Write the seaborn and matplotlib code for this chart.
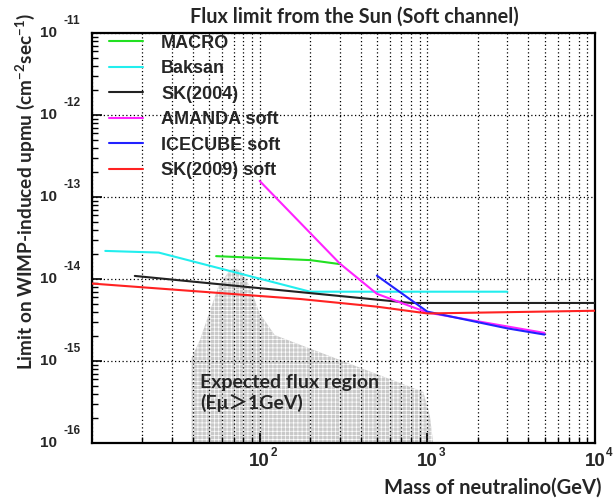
import numpy as np
import pandas as pd
import matplotlib
matplotlib.use("Agg")
import matplotlib.pyplot as plt
from matplotlib.ticker import LogLocator, NullFormatter
import seaborn as sns

# ---- data -------------------------------------------------------------
macro_mass = [55, 200, 300]
macro_flux = [1.9e-14, 1.7e-14, 1.52e-14]

baksan_mass = [12, 25, 200, 3000]
baksan_flux = [2.2e-14, 2.1e-14, 7.0e-15, 7.0e-15]

sk2004_mass = [18, 800, 10000]
sk2004_flux = [1.09e-14, 5.1e-15, 5.1e-15]

amanda_mass = [100, 300, 500, 1000, 5000]
amanda_flux = [1.57e-13, 1.55e-14, 6.6e-15, 3.9e-15, 2.2e-15]

icecube_mass = [500, 1000, 3000, 5000]
icecube_flux = [1.1e-14, 4.0e-15, 2.5e-15, 2.1e-15]

sk2009_mass = [10, 175, 500, 1000, 10000]
sk2009_flux = [8.8e-15, 5.7e-15, 4.6e-15, 3.8e-15, 4.1e-15]

# upper edge of the expected flux band (Emu > 1 GeV)
region_mass = [39.3, 39.3, 44, 56.6, 66.5, 71.3, 78, 87.5, 100, 123, 946, 1037, 1083]
region_flux = [1e-16, 1.1e-15, 1.8e-15, 8.0e-15, 1.29e-14, 1.35e-14, 1.23e-14,
               8.0e-15, 3.8e-15, 2.07e-15, 4.2e-16, 2.1e-16, 1e-16]

series_names = ["MACRO", "Baksan", "SK(2004)", "AMANDA soft", "ICECUBE soft", "SK(2009) soft"]
series_colors = ["#22e022", "#22eeee", "#222222", "#ff22ff", "#2222ff", "#ff2222"]

x_decades = [100, 1000, 10000]
y_decades = [1e-16, 1e-15, 1e-14, 1e-13, 1e-12, 1e-11]

# ---- style ------------------------------------------------------------
sns.set_theme(style="ticks")
plt.rcParams["font.family"] = ["Liberation Sans", "DejaVu Sans"]
plt.rcParams["font.weight"] = "bold"
plt.rcParams["mathtext.fontset"] = "custom"
plt.rcParams["mathtext.rm"] = "Lato:bold"
plt.rcParams["mathtext.bf"] = "Lato:bold"
plt.rcParams["mathtext.it"] = "Lato:bold:italic"
plt.rcParams["hatch.color"] = "#969696"
plt.rcParams["hatch.linewidth"] = 0.5

frames = []
for name, m, f in zip(series_names,
                      [macro_mass, baksan_mass, sk2004_mass, amanda_mass, icecube_mass, sk2009_mass],
                      [macro_flux, baksan_flux, sk2004_flux, amanda_flux, icecube_flux, sk2009_flux]):
    frames.append(pd.DataFrame({"mass": m, "flux": f, "experiment": name}))
df = pd.concat(frames, ignore_index=True)

fig = plt.figure(figsize=(6.13, 5.00), dpi=100)
W, H = 613, 500
ax = fig.add_axes([92 / W, 1 - 443 / H, (595 - 92) / W, (443 - 33) / H])
ax.set_xscale("log")
ax.set_yscale("log")

# expected flux band
ax.fill_between(region_mass, region_flux, 1e-16, facecolor="#c9c9c9",
                edgecolor="none", hatch="++++", zorder=1, linewidth=0)

sns.lineplot(data=df, x="mass", y="flux", hue="experiment", hue_order=series_names,
             palette=dict(zip(series_names, series_colors)), estimator=None,
             linewidth=1.5, ax=ax, zorder=3)

ax.set_xlim(10, 1e4)
ax.set_ylim(1e-16, 1e-11)

# ticks
ax.xaxis.set_major_locator(LogLocator(base=10, numticks=10))
ax.xaxis.set_minor_locator(LogLocator(base=10, subs=np.arange(2, 10), numticks=20))
ax.yaxis.set_major_locator(LogLocator(base=10, numticks=10))
ax.yaxis.set_minor_locator(LogLocator(base=10, subs=np.arange(2, 10), numticks=20))
ax.xaxis.set_major_formatter(NullFormatter())
ax.xaxis.set_minor_formatter(NullFormatter())
ax.yaxis.set_major_formatter(NullFormatter())
ax.yaxis.set_minor_formatter(NullFormatter())
ax.tick_params(which="major", direction="in", length=7, width=1.2, color="black",
               top=False, right=False)
ax.tick_params(which="minor", direction="in", length=4, width=1.0, color="black",
               top=False, right=False)
ax.set_xlabel("")
ax.set_ylabel("")
for sp in ax.spines.values():
    sp.set_color("black")
    sp.set_linewidth(1.6)
    sp.set_visible(True)

# dotted grid: vertical at every decade subdivision, horizontal at decades only
grid_kw = dict(visible=True, color="black", linestyle=(0, (1, 2)), linewidth=0.9)
ax.grid(which="major", axis="x", **grid_kw)
ax.grid(which="minor", axis="x", **grid_kw)
ax.grid(which="major", axis="y", **grid_kw)
ax.set_axisbelow(False)

px = 0.72  # points per pixel at 100 dpi
for v, e in zip(x_decades, ["2", "3", "4"]):
    ax.annotate("10", xy=(v, 0), xycoords=("data", "axes fraction"),
                xytext=(0, -18.5 * px), textcoords="offset points",
                ha="center", va="center", fontsize=13.5, fontweight="bold")
    ax.annotate(e, xy=(v, 0), xycoords=("data", "axes fraction"),
                xytext=(11 * px, -9.5 * px), textcoords="offset points",
                ha="left", va="center", fontsize=8.5, fontweight="bold")
for v, e in zip(y_decades, ["-16", "-15", "-14", "-13", "-12", "-11"]):
    ax.annotate("10", xy=(0, v), xycoords=("axes fraction", "data"),
                xytext=(-35 * px, 0), textcoords="offset points",
                ha="right", va="center", fontsize=11, fontweight="bold")
    ax.annotate(e, xy=(0, v), xycoords=("axes fraction", "data"),
                xytext=(-29 * px, 12 * px), textcoords="offset points",
                ha="left", va="center", fontsize=8.5, fontweight="bold")

# legend without frame, drawn over the grid
leg = ax.legend(loc="upper left", bbox_to_anchor=(14 / 503, 1 + 1 / 410), frameon=False,
                fontsize=13, handlelength=1.9, handletextpad=1.0, labelspacing=0.47,
                borderpad=0.15, borderaxespad=0)
for t in leg.get_texts():
    t.set_fontweight("bold")
for lh in leg.get_lines():
    lh.set_linewidth(1.5)

# band annotation
cal = ["Lato", "Noto Sans CJK JP", "DejaVu Sans"]
ax.text((200 - 92) / 503, (443 - 388) / 410, "Expected flux region",
        transform=ax.transAxes, ha="left", va="baseline", fontsize=14,
        fontweight="bold", family=cal, zorder=4)
ax.text((200 - 92) / 503, (443 - 409) / 410, "(Eμ\uff1e1GeV)",
        transform=ax.transAxes, ha="left", va="baseline", fontsize=14,
        fontweight="bold", family=cal, zorder=4)

fig.text(354 / W, 1 - 17 / H, "Flux limit from the Sun (Soft channel)",
         ha="center", va="center", fontsize=14.3, fontweight="bold", family=cal)
fig.text(602 / W, 1 - 488 / H, "Mass of neutralino(GeV)",
         ha="right", va="center", fontsize=14.5, fontweight="bold", family=cal)
fig.text(25 / W, 1 - 192 / H, r"Limit on WIMP-induced upmu (cm$^{-2}$sec$^{-1}$)",
         ha="center", va="center", rotation=90, fontsize=13.7, fontweight="bold",
         family=cal)

fig.savefig("out.png", dpi=100, facecolor="white")
